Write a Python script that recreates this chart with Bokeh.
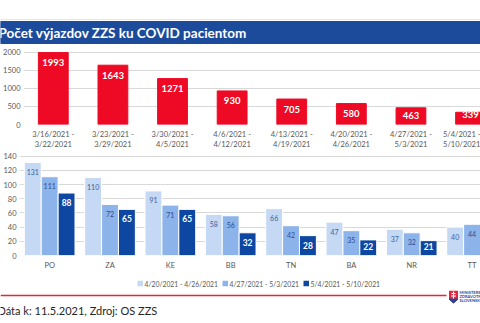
from bokeh.plotting import figure
from bokeh.models import Range1d, FixedTicker, Label
from bokeh.layouts import column
from bokeh.embed import file_html
from bokeh.resources import INLINE
from bokeh.core.properties import value

# ---------------- data ----------------
title_text = "Počet výjazdov ZZS ku COVID pacientom"
weeks = ["3/16/2021 -\n3/22/2021", "3/23/2021 -\n3/29/2021", "3/30/2021 -\n4/5/2021",
         "4/6/2021 -\n4/12/2021", "4/13/2021 -\n4/19/2021", "4/20/2021 -\n4/26/2021",
         "4/27/2021 -\n5/3/2021", "5/4/2021 -\n5/10/2021"]
weekly_counts = [1993, 1643, 1271, 930, 705, 580, 463, 339]
top_ticks = [0, 500, 1000, 1500, 2000]

regions = ["PO", "ZA", "KE", "BB", "TN", "BA", "NR", "TT"]
series_labels = ["4/20/2021 - 4/26/2021", "4/27/2021 - 5/3/2021", "5/4/2021 - 5/10/2021"]
series_1 = [131, 110, 91, 58, 66, 47, 37, 40]
series_2 = [111, 72, 71, 56, 42, 35, 32, 44]
series_3 = [88, 65, 65, 32, 28, 22, 21, 30]
bottom_ticks = [0, 20, 40, 60, 80, 100, 120, 140]

footer_text = "Dáta k: 11.5.2021, Zdroj: OS ZZS"
logo_lines = ["MINISTERSTVO", "ZDRAVOTNÍCTVA", "SLOVENSKEJ REPUBLIKY"]

# ---------------- styles ----------------
FONT = "Lato"
GRAY = "#595959"
GRID = "#d9d9d9"
RED = "#ee0a24"
TITLE_BG = "#1d4b9b"
C1, C2, C3 = "#c5d9f4", "#8db4ea", "#0e47a1"
W = 480


def bare(h, yr):
    f = figure(width=W, height=h, x_range=Range1d(0, W), y_range=yr,
               x_axis_type=None, y_axis_type=None,
               output_backend="svg", toolbar_location=None, frame_align=False,
               min_border=0, min_border_left=0, min_border_right=0,
               min_border_top=0, min_border_bottom=0)
    f.grid.visible = False
    f.outline_line_color = None
    return f


def style_axes(p, ticks):
    p.outline_line_color = None
    p.xgrid.grid_line_color = None
    p.ygrid.grid_line_color = GRID
    p.ygrid.ticker = FixedTicker(ticks=ticks)
    p.yaxis.ticker = FixedTicker(ticks=ticks)
    for ax in (p.xaxis[0], p.yaxis[0]):
        ax.axis_line_color = None
        ax.major_tick_line_color = None
        ax.minor_tick_line_color = None
        ax.major_tick_out = 0
        ax.major_tick_in = 0
        ax.minor_tick_out = 0
        ax.minor_tick_in = 0
        ax.major_label_text_color = GRAY
        ax.major_label_text_font = FONT
        ax.major_label_text_font_size = "7.5px"
    p.yaxis.major_label_standoff = 3
    p.xaxis.major_label_standoff = 5


# ---------------- title ----------------
t = bare(47, Range1d(47, 0))
t.quad(left=[0], right=[W], top=[21], bottom=[43], color=TITLE_BG)
t.segment(x0=[0], x1=[W], y0=[19], y1=[19], line_color="#e6e6e6", line_width=1)
t.add_layout(Label(x=-2, y=32, text=title_text, text_color="white", text_font=FONT,
                   text_font_style="bold", text_font_size="13.5px", text_baseline="middle"))

# ---------------- top chart ----------------
top_h, top_mb = 105, 25
frame1 = top_h - top_mb
y_end_top = 2000 * frame1 / 75.0
p1 = figure(width=W, height=top_h, x_range=Range1d(-0.5, 7 + 1 / 6), y_range=Range1d(0, y_end_top),
            output_backend="svg", toolbar_location=None, frame_align=False,
            min_border_left=20, min_border_right=0, min_border_top=0, min_border_bottom=top_mb)
idx = list(range(len(weekly_counts)))
p1.vbar(x=idx, top=weekly_counts, width=0.5, color=RED)
scale1 = frame1 / y_end_top
off1 = [min(10, v * scale1 - 10) for v in weekly_counts]
p1.text(x=idx, y=weekly_counts, text=[str(v) for v in weekly_counts], y_offset=off1,
        text_align="center", text_baseline="middle", text_color="white",
        text_font=value(FONT), text_font_style="bold", text_font_size="9.5px")
style_axes(p1, top_ticks)
p1.xaxis.ticker = FixedTicker(ticks=idx)
p1.xaxis.major_label_overrides = {i: w for i, w in enumerate(weeks)}

# ---------------- bottom chart ----------------
bot_h, bot_mb = 120, 15
frame2 = bot_h - bot_mb
y_end_bot = 140 * frame2 / 101.3
p2 = figure(width=W, height=bot_h, x_range=Range1d(-0.5, 7.14), y_range=Range1d(0, y_end_bot),
            output_backend="svg", toolbar_location=None, frame_align=False,
            min_border_left=17, min_border_right=0, min_border_top=0, min_border_bottom=bot_mb)
scale2 = frame2 / y_end_bot
ridx = list(range(len(regions)))
bw = 0.28
series = [series_1, series_2, series_3]
colors = [C1, C2, C3]
lab_colors = ["#3d5f9e", "#2c4d8c", "white"]
lab_styles = ["normal", "normal", "bold"]
lab_sizes = ["7px", "7px", "8.5px"]
for k, (vals, col) in enumerate(zip(series, colors)):
    xs = [i + (k - 1) * bw for i in ridx]
    offs = [min(9.5, v * scale2 - 9) for v in vals]
    p2.vbar(x=xs, top=vals, width=bw, fill_color=col, line_color="white", line_width=1)
    p2.text(x=xs, y=vals, text=[str(v) for v in vals], y_offset=offs,
            text_align="center", text_baseline="middle", text_color=lab_colors[k],
            text_font=value(FONT), text_font_style=lab_styles[k], text_font_size=lab_sizes[k])
style_axes(p2, bottom_ticks)
p2.xaxis.ticker = FixedTicker(ticks=ridx)
p2.xaxis.major_label_overrides = {i: r for i, r in enumerate(regions)}

# ---------------- legend strip (drawn by hand) ----------------
lg = bare(18, Range1d(18, 0))
leg_x = [137, 222, 303]
lg.quad(left=leg_x, right=[x + 5.5 for x in leg_x], top=[8.2] * 3, bottom=[13.7] * 3,
        fill_color=colors, line_color=None)
lg.text(x=[x + 7 for x in leg_x], y=[11] * 3, text=series_labels,
        text_align="left", text_baseline="middle", text_color=GRAY,
        text_font=value(FONT), text_font_size="6.8px")

# ---------------- footer ----------------
f = bare(33, Range1d(33, 0))
f.segment(x0=[0], x1=[446], y0=[5], y1=[5], line_color="#e3263b", line_width=1.5)
f.patch(x=[448.5, 457.5, 457.5, 453, 448.5], y=[0, 0, 9, 13, 9], fill_color="#e3263b", line_color=None)
f.patch(x=[448.5, 457.5, 457.5, 453, 448.5], y=[8, 8, 9, 13, 9], fill_color="#1d4b9b", line_color=None)
f.segment(x0=[453, 451, 450.5], x1=[453, 455, 455.5], y0=[1, 3, 5.5], y1=[8, 3, 5.5],
          line_color="white", line_width=1.2)
for yy, tx in zip([2, 6, 10], logo_lines):
    f.add_layout(Label(x=459, y=yy, text=tx, text_color="#1d4b9b", text_font=FONT,
                       text_font_style="bold", text_font_size="4px", text_baseline="middle"))
f.add_layout(Label(x=-3, y=20, text=footer_text, text_color="#262626", text_font=FONT,
                   text_font_size="11px", text_baseline="middle"))

layout = column(t, p1, p2, lg, f, spacing=0)
open("out.html", "w").write(file_html(layout, INLINE))
